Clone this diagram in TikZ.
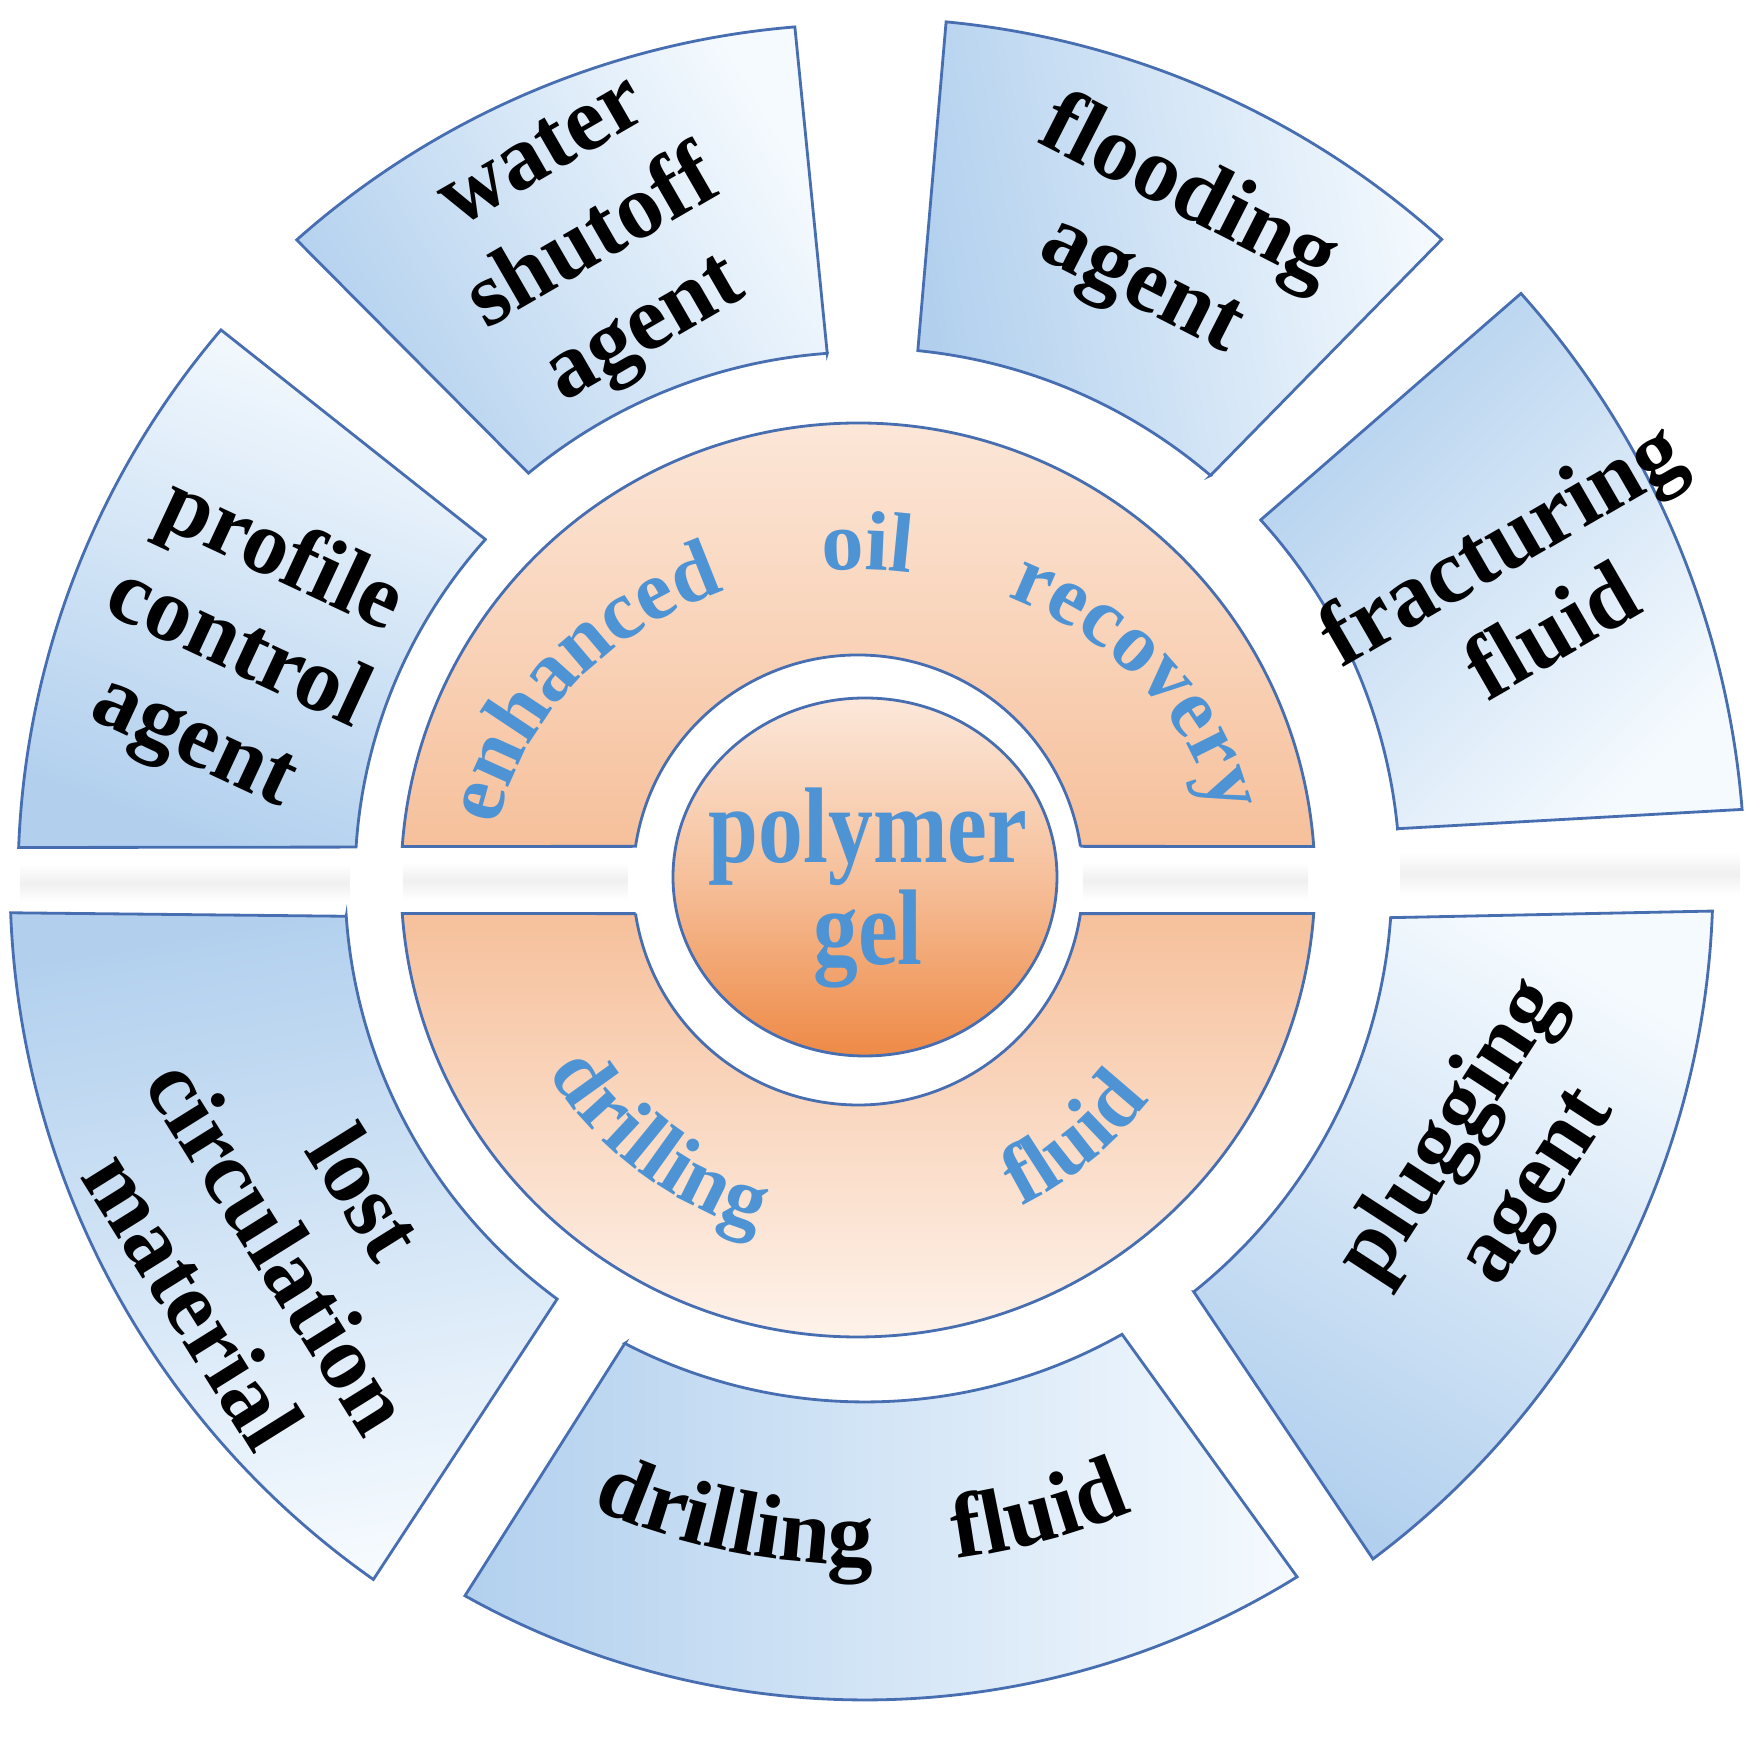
\documentclass[tikz,border=0pt]{standalone}
\usepackage{fontspec}
\setmainfont{Liberation Serif}
\usepackage{xcolor}
\usepackage{tikz}
\usetikzlibrary{
	decorations.text,
	positioning
}

\definecolor{partline}{RGB}{72,110,178}
\definecolor{partdark}{RGB}{178,208,238}
\definecolor{partlight}{RGB}{245,250,254}
\definecolor{peachlight}{RGB}{252,232,218}
\definecolor{peachmid}{RGB}{246,192,155}
\definecolor{peachpale}{RGB}{254,244,237}
\definecolor{coredeep}{RGB}{238,138,70}
\definecolor{gelblue}{RGB}{78,148,212}

\newcommand{\labfont}{\fontsize{26}{29}\selectfont\bfseries}
\newcommand{\arcfont}{\fontsize{24}{24}\selectfont\bfseries\color{gelblue}}

% 扇环: 样式, 内半径, 外半径, 内起角, 外起角, 外终角, 内终角
\newcommand{\ringpart}[7]{%
	\draw[#1] (#4:#2) -- (#5:#3)
	arc[start angle=#5, end angle=#6, radius=#3] -- (#7:#2)
	arc[start angle=#7, end angle=#4, radius=#2] -- cycle;}

\begin{document}
\begin{tikzpicture}[
	part/.style={draw=partline, line width=0.8pt, top color=partdark, bottom color=partlight, shading angle=#1},
	upperband/.style={draw=partline, line width=0.8pt, top color=peachlight, bottom color=peachmid},
	lowerband/.style={draw=partline, line width=0.8pt, top color=peachmid, bottom color=peachpale},
	glow/.style={top color=white, bottom color=white, middle color=black!6},
	seglabel/.style={font=\labfont, align=center, inner sep=0pt}
]
	\useasboundingbox (-8.65,-8.79) rectangle (8.98,8.80);
	
	% 外圈七块
	\ringpart{part=120}{5.28}{8.56}{94.1}{94.7}{131.6}{129.6}
	\ringpart{part=100}{5.32}{8.62}{49.5}{48.0}{84.6}{84.3}
	\ringpart{part=45}{5.35}{8.80}{5.5}{4.6}{41.8}{42.3}
	\ringpart{part=160}{5.10}{8.47}{138.1}{139.5}{177.8}{176.3}
	\ringpart{part=10}{5.20}{8.55}{184.0}{182.2}{234.9}{233.7}
	\ringpart{part=90}{5.22}{8.20}{242.6}{240.8}{301.8}{299.5}
	\ringpart{part=150}{5.27}{8.48}{308.6}{306.8}{357.9}{355.9}
	
	% 倒影
	\shade[glow] (-8.45,0.16) rectangle (-5.15,-0.22);
	\shade[glow] (5.35,0.28) rectangle (8.75,-0.15);
	
	\node[seglabel, rotate=30] (water) at (-2.68,6.33) {water\\shutoff\\agent};
	\node[seglabel, rotate=-27] (flooding) at (3.0,6.4) {flooding\\agent};
	\node[seglabel, rotate=30] (fracturing) at (6.6,2.95) {fracturing\\fluid};
	\node[seglabel, rotate=-25] (profile) at (-6.28,2.3) {profile\\control\\agent};
	\node[seglabel, rotate=-58] (lost) at (-5.85,-3.66) {lost\\circulation\\material};
	\node[seglabel, rotate=57] (plugging) at (6.3,-2.8) {plugging\\agent};
	\path[decorate, decoration={text along path, text={|\labfont|drilling fluid},
		text align={fit to path stretching spaces}}]
		(-113.5:6.85) arc[start angle=-113.5, end angle=-67, radius=6.85];
	
	% 中间两个半环
	\begin{scope}[xshift=-0.07cm]
		\ringpart{upperband}{2.25}{4.57}{8.6}{4.2}{175.8}{171.4}
		\ringpart{lowerband}{2.25}{4.57}{188.6}{184.2}{355.8}{351.4}
		\shade[glow] (-4.55,0.18) rectangle (-2.3,-0.2);
		\shade[glow] (2.25,0.18) rectangle (4.5,-0.2);
		\path[decorate, decoration={text along path, text={|\arcfont|enhanced oil recovery},
			text align={fit to path stretching spaces}}]
			(170:3.65 and 3.1) arc[start angle=170, end angle=12, x radius=3.65, y radius=3.1];
		\path[decorate, decoration={text along path, text={|\arcfont|drilling fluid},
			text align={fit to path stretching spaces}}]
			(212:3.65) arc[start angle=212, end angle=323, radius=3.65];
	\end{scope}
	
	% 圆心
	\draw[draw=partline, line width=0.8pt, top color=peachlight, bottom color=coredeep, middle color=peachmid]
		(0,0.03) ellipse [x radius=1.92, y radius=1.79];
	\node[font=\fontsize{25.5}{22}\selectfont\bfseries, text=gelblue, align=center,
		yscale=1.2, transform shape, inner sep=0pt] (gel) at (0.03,-0.08) {polymer\\gel};
\end{tikzpicture}
\end{document}
